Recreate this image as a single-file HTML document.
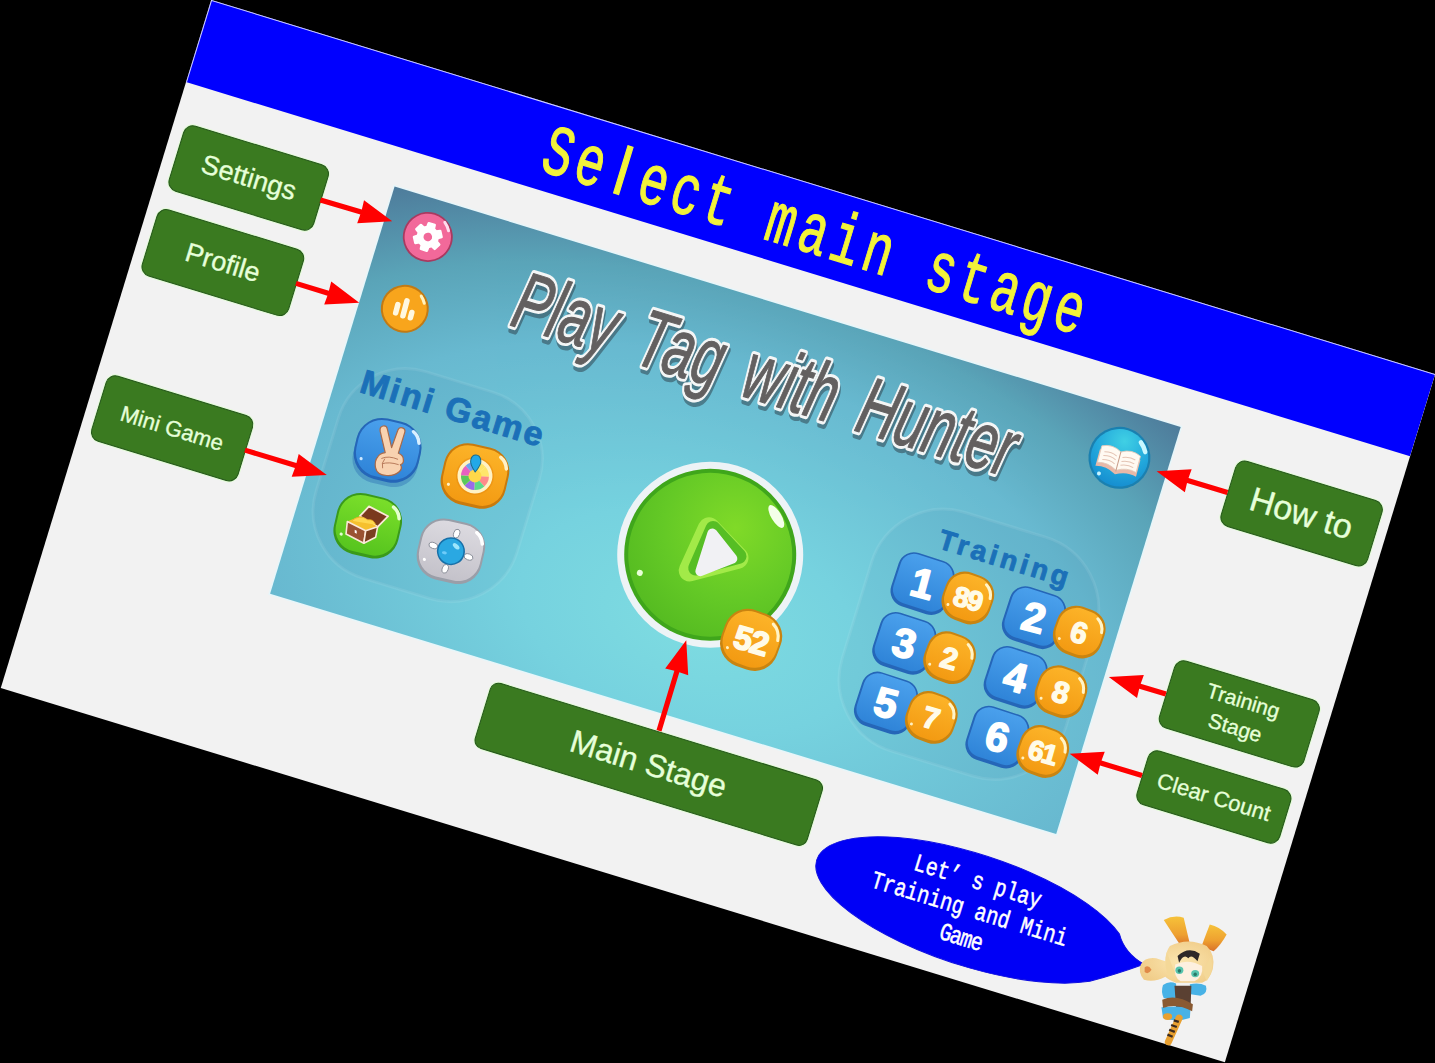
<!DOCTYPE html>
<html><head><meta charset="utf-8">
<style>
html,body{margin:0;padding:0;background:#000;}
body{width:1435px;height:1063px;overflow:hidden;position:relative;font-family:"Liberation Sans",sans-serif;}
#slide{position:absolute;left:78.2px;top:171.2px;width:1280px;height:720px;background:#f2f2f2;transform:rotate(17deg) scale(1,0.9993);overflow:hidden;}
.abs{position:absolute;}
#band{left:0;top:0;width:1280px;height:85.5px;background:#0000ff;border-top:1.6px solid #d8d8ff;border-left:1.6px solid #d8d8ff;box-sizing:border-box;}
#title{left:4px;top:3px;width:1280px;text-align:center;font-family:"Liberation Mono",monospace;font-size:72px;line-height:80px;color:#f2f23a;-webkit-text-stroke:1.2px #f2f23a;transform:scaleX(0.8);white-space:pre;}
.tc{display:inline-block;width:41.75px;text-align:center;transform:scaleX(0.84);}
.tl{font-family:"Liberation Sans",sans-serif;font-size:68px;transform:scaleX(1.1);}
.lbl{position:absolute;background:#3a7a20;border:1.2px solid #24561a;box-shadow:0 0 0 1px #e2fbd6;border-radius:10px;color:#e6ffd9;-webkit-text-stroke:0.35px #e6ffd9;display:flex;align-items:center;justify-content:center;text-align:center;box-sizing:border-box;}
#game{left:229.5px;top:124.5px;width:822px;height:426px;overflow:hidden;
 background:radial-gradient(ellipse 700px 420px at 410px 330px,#7edce1 0%,#76d2df 25%,#68b9d0 62%,#5aa4b8 80%,#4f809e 96%,#4c7898 100%);
 box-shadow:0 0 0 1.5px #e6f6fa;}
</style></head>
<body>
<div id="slide">
  <div id="band" class="abs"></div>
  <div id="title" class="abs"><span class="tc">S</span><span class="tc">e</span><span class="tc tl">l</span><span class="tc">e</span><span class="tc">c</span><span class="tc">t</span><span class="tc">&nbsp;</span><span class="tc">m</span><span class="tc">a</span><span class="tc">i</span><span class="tc">n</span><span class="tc">&nbsp;</span><span class="tc">s</span><span class="tc">t</span><span class="tc">a</span><span class="tc">g</span><span class="tc">e</span></div>
  <div id="game" class="abs"><svg class="abs" style="left:0;top:0" width="822" height="426" viewBox="0 0 822 426">
  <defs>
    <radialGradient id="gPlay" cx="0.6" cy="0.3" r="0.8">
      <stop offset="0" stop-color="#80da28"/><stop offset="0.55" stop-color="#64c926"/><stop offset="1" stop-color="#52b820"/>
    </radialGradient>
    <radialGradient id="gBook" cx="0.5" cy="0.2" r="0.8">
      <stop offset="0" stop-color="#40d0e4"/><stop offset="0.6" stop-color="#22a8dc"/><stop offset="1" stop-color="#168ed0"/>
    </radialGradient>
  </defs>
  <!-- panels -->
  <rect x="14" y="168" width="210" height="216" rx="70" fill="#1e5a80" fill-opacity="0.06" stroke="#ffffff" stroke-opacity="0.08" stroke-width="3"/>
  <rect x="566" y="145" width="234" height="250" rx="75" fill="#1e5a80" fill-opacity="0.06" stroke="#ffffff" stroke-opacity="0.08" stroke-width="3"/>

  
  <!-- title -->
  <g font-family="Liberation Sans" font-style="italic" font-size="82" word-spacing="14">
    <g transform="translate(410,99) scale(0.655,1)">
    <text x="3" y="4" text-anchor="middle" fill="#2a3a44" opacity="0.5" stroke="#2a3a44" stroke-width="7" stroke-linejoin="round">Play Tag with Hunter</text>
    <text x="0" y="0" text-anchor="middle" fill="#6b6b6b" stroke="#f4f6f6" stroke-width="7" stroke-linejoin="round">Play Tag with Hunter</text>
    <text x="0" y="0" text-anchor="middle" fill="#636060" stroke="#636060" stroke-width="1" stroke-linejoin="round">Play Tag with Hunter</text>
    </g>
  </g>
  <!-- mini game label -->
  <text x="121" y="207" text-anchor="middle" font-family="Liberation Sans" font-weight="bold" font-size="34" letter-spacing="2.2" fill="#1b70b8" stroke="#1b70b8" stroke-width="0.9" stroke-linejoin="round">Mini Game</text>
  <!-- training label -->
  <text x="693" y="187" text-anchor="middle" font-family="Liberation Sans" font-weight="bold" font-size="28" letter-spacing="3.6" fill="#1b70b8" stroke="#1b70b8" stroke-width="0.9" stroke-linejoin="round">Training</text>

  
  <defs>
    <linearGradient id="gBlueBtn" x1="0" y1="0" x2="0" y2="1"><stop offset="0" stop-color="#4aa0ec"/><stop offset="1" stop-color="#2f84d8"/></linearGradient>
    <linearGradient id="gOrange" x1="0" y1="0" x2="0" y2="1"><stop offset="0" stop-color="#fcb328"/><stop offset="1" stop-color="#f39a12"/></linearGradient>
    <linearGradient id="gGreenBtn" x1="0" y1="0" x2="0" y2="1"><stop offset="0" stop-color="#7ade2a"/><stop offset="1" stop-color="#56c41e"/></linearGradient>
    <linearGradient id="gGrayBtn" x1="0" y1="0" x2="0" y2="1"><stop offset="0" stop-color="#dcdae0"/><stop offset="1" stop-color="#c4c2ca"/></linearGradient>
  </defs>
  <!-- mini game icons -->
  <g transform="translate(70.5,254.5) rotate(-4)">
    <rect x="-33" y="-30" width="66" height="62" rx="24" fill="#1f5fae" opacity="0.35" transform="translate(0,3)"/>
    <rect x="-33" y="-31" width="66" height="62" rx="26" fill="#2566b8"/>
    <rect x="-31" y="-29" width="62" height="57" rx="24" fill="url(#gBlueBtn)"/>
    <path d="M21,-24 q6,3 8,10" stroke="#d8f0ff" stroke-width="3.5" fill="none" stroke-linecap="round"/>
    <circle cx="-24" cy="14" r="1.6" fill="#cde8ff"/>
    <!-- peace hand -->
    <g transform="translate(3,0) scale(0.88) rotate(-10)">
      <path d="M-6,2 L-13,-22 Q-14,-27 -10,-28 Q-6,-29 -5,-25 L1,-4 L7,-24 Q8,-28 12,-27 Q16,-26 15,-22 L9,2 Q15,4 15,9 Q16,13 12,15 Q15,19 11,23 Q6,28 -3,28 Q-14,28 -16,20 Q-18,12 -14,7 Q-12,3 -6,2 Z" fill="#f8d2b0" stroke="#a86a4a" stroke-width="1.4" stroke-linejoin="round"/>
      <path d="M-10,9 Q-2,5 9,9 M-9,15 Q-1,12 10,15 M-6,9 Q-10,14 -8,20" stroke="#b87a5a" stroke-width="1.1" fill="none"/>
    </g>
  </g>
  <g transform="translate(161.5,253.5) rotate(-4)">
    <rect x="-33" y="-31" width="66" height="62" rx="24" fill="#c97a0c"/>
    <rect x="-31" y="-29" width="62" height="57" rx="22" fill="url(#gOrange)"/>
    <path d="M21,-24 q6,3 8,10" stroke="#fff2c8" stroke-width="3.5" fill="none" stroke-linecap="round"/>
    <circle cx="-24" cy="14" r="1.6" fill="#fff2c8"/>
    <!-- roulette -->
    <g transform="rotate(-10)">
    <circle r="19" fill="#e88a10" opacity="0.5"/>
    <circle r="17.5" fill="#fff2c4"/>
    <path d="M0,0 L0,-14 A14,14 0 0 1 9.9,-9.9 z" fill="#ffe66a"/>
    <path d="M0,0 L9.9,-9.9 A14,14 0 0 1 14,0 z" fill="#ffe66a"/>
    <path d="M0,0 L14,0 A14,14 0 0 1 9.9,9.9 z" fill="#ff8a8a"/>
    <path d="M0,0 L9.9,9.9 A14,14 0 0 1 0,14 z" fill="#5ed88a"/>
    <path d="M0,0 L0,14 A14,14 0 0 1 -9.9,9.9 z" fill="#9a6ae8"/>
    <path d="M0,0 L-9.9,9.9 A14,14 0 0 1 -14,0 z" fill="#5ac85a"/>
    <path d="M0,0 L-14,0 A14,14 0 0 1 -9.9,-9.9 z" fill="#e860c0"/>
    <path d="M0,0 L-9.9,-9.9 A14,14 0 0 1 0,-14 z" fill="#6aa0f0"/>
    <circle r="6.5" fill="#ffd84a"/>
    <path d="M0,-4 Q-6,-12 -5,-16 Q-4,-21 0,-21 Q4,-21 5,-16 Q6,-12 0,-4 Z" fill="#22a8e8" stroke="#1a6a8a" stroke-width="1"/>
    </g>
  </g>
  <g transform="translate(73.5,332.5) rotate(-4)">
    <rect x="-33" y="-31" width="66" height="62" rx="24" fill="#3a9a1a"/>
    <rect x="-31" y="-29" width="62" height="57" rx="22" fill="url(#gGreenBtn)"/>
    <path d="M21,-24 q6,3 8,10" stroke="#e4ffd0" stroke-width="3.5" fill="none" stroke-linecap="round"/>
    <circle cx="-24" cy="14" r="1.6" fill="#e4ffd0"/>
    <!-- chest -->
    <g transform="rotate(-13) translate(2,-1)">
      <path d="M-9.9,-8.6 L-0.7,-18.4 L18.4,-8.6 L7.9,2 Z" fill="#7a3a1e" stroke="#fbe8d8" stroke-width="1.8" stroke-linejoin="round"/>
      <path d="M-22.4,-3.3 L-9.9,-8.6 L7.9,2 L-4,5.9 Z" fill="#f6c02e"/>
      <path d="M-18,-4 Q-10,-11 -2,-5 Q4,-6 6,0" fill="#ffd850" stroke="#e8a820" stroke-width="0.8"/>
      <path d="M-22.4,-3.3 L-4,5.9 L-5.9,18.4 L-23.7,9.2 Z" fill="#9a5232" stroke="#fbe8d8" stroke-width="1.6" stroke-linejoin="round"/>
      <path d="M-4,5.9 L7.9,2 L5.9,12.5 L-5.9,18.4 Z" fill="#7a3e20" stroke="#fbe8d8" stroke-width="1.6" stroke-linejoin="round"/>
      <path d="M-15,5 l2,1 v3 l-2,-1 z" fill="#ffffff"/>
    </g>
  </g>
  <g transform="translate(160.5,332.5) rotate(-4)">
    <rect x="-33" y="-31" width="66" height="62" rx="24" fill="#9a9ea8"/>
    <rect x="-31" y="-29" width="62" height="57" rx="22" fill="url(#gGrayBtn)"/>
    <path d="M21,-24 q6,3 8,10" stroke="#ffffff" stroke-width="3.5" fill="none" stroke-linecap="round"/>
    <circle cx="-24" cy="14" r="1.6" fill="#fff"/>
    <g transform="rotate(5)" fill="#ffffff" stroke="#8a8e98" stroke-width="0.9">
      <ellipse cx="18.5" cy="0" rx="4.5" ry="3"/><ellipse cx="-18.5" cy="0" rx="4.5" ry="3"/><ellipse cx="0" cy="18.5" rx="3" ry="4.5"/><ellipse cx="0" cy="-18.5" rx="3" ry="4.5"/>
    </g>
    <circle r="14" fill="#1870a8"/>
    <circle r="12.5" fill="#2aa8e2"/>
    <ellipse cx="4" cy="-6" rx="4" ry="2.2" transform="rotate(30 4 -6)" fill="#a8ecff" opacity="0.9"/>
    <ellipse cx="-6" cy="3" rx="2.5" ry="1.5" fill="#7fd4ff" opacity="0.8"/>
  </g>

  
  <!-- play button -->
  <g transform="translate(409.5,260)">
    <circle r="93" fill="#edf3f6"/>
    <circle r="86" fill="#3fa61b"/>
    <circle r="82" fill="url(#gPlay)"/>
        <ellipse cx="52" cy="-56" rx="5" ry="13" transform="rotate(-48 52 -56)" fill="#f4ffe8"/>
    <circle cx="-62" cy="38" r="3" fill="#e8ffd8"/>
    <!-- triangle -->
    <path d="M-9,-25 L27,-5 L-15,21 Z" fill="#a2ea48" stroke="#a2ea48" stroke-width="22" stroke-linejoin="round"/>
    <path d="M-5,-26 L28,-7 L-10,17 Z" fill="#56be24" stroke="#56be24" stroke-width="15" stroke-linejoin="round"/>
    <path d="M-4.2,-21 L22.3,-2.7 L-4.6,18.6 Z" fill="#f1f1f4" stroke="#f1f1f4" stroke-width="10" stroke-linejoin="round"/>
  </g>
  <!-- 52 badge -->
<g transform="translate(473.5,329.5) rotate(3)">
    <rect x="-29.5" y="-29.5" width="59" height="59" rx="23.8" fill="#c98410"/>
    <rect x="-27.5" y="-27.5" width="55" height="54" rx="22.400000000000002" fill="url(#gOrange)"/>
    <path d="M15.400000000000002,-22.400000000000002 q8.4,4.2 9.799999999999999,14.0" stroke="#fff4c8" stroke-width="3" fill="none" stroke-linecap="round"/>
    <circle cx="-19.599999999999998" cy="15.400000000000002" r="1.5" fill="#fff0c0"/>
    <text x="0" y="12" text-anchor="middle" font-family="Liberation Sans" font-weight="bold" font-size="33" letter-spacing="-1.5" fill="#fffbe8" stroke="#fffbe8" stroke-width="1.6" stroke-linejoin="round" transform="rotate(-4)">52</text>
  </g>
<!-- training buttons -->
<g transform="translate(621.0,225.5) rotate(1)">
    <rect x="-29" y="-28" width="58" height="56" rx="16" fill="#2566b8"/>
    <rect x="-27" y="-26.5" width="54" height="51" rx="14" fill="url(#gBlueBtn)"/>
    <text x="0" y="14" text-anchor="middle" font-family="Liberation Sans" font-weight="bold" font-size="41" fill="#ffffff" stroke="#fff" stroke-width="1.8" stroke-linejoin="round" transform="rotate(-3)">1</text>
  </g>
<g transform="translate(668.5,226.0) rotate(3)">
    <rect x="-25.0" y="-25.0" width="50" height="50" rx="19.974999999999998" fill="#c98410"/>
    <rect x="-23.0" y="-23.0" width="46" height="45" rx="18.8" fill="url(#gOrange)"/>
    <path d="M12.925,-18.8 q7.05,3.525 8.225,11.75" stroke="#fff4c8" stroke-width="3" fill="none" stroke-linecap="round"/>
    <circle cx="-16.45" cy="12.925" r="1.5" fill="#fff0c0"/>
    <text x="0" y="10.5" text-anchor="middle" font-family="Liberation Sans" font-weight="bold" font-size="28" letter-spacing="-1.5" fill="#fffbe8" stroke="#fffbe8" stroke-width="1.4" stroke-linejoin="round" transform="rotate(-4)">89</text>
  </g>
<g transform="translate(737.5,225.5) rotate(1)">
    <rect x="-29" y="-28" width="58" height="56" rx="16" fill="#2566b8"/>
    <rect x="-27" y="-26.5" width="54" height="51" rx="14" fill="url(#gBlueBtn)"/>
    <text x="0" y="14" text-anchor="middle" font-family="Liberation Sans" font-weight="bold" font-size="41" fill="#ffffff" stroke="#fff" stroke-width="1.8" stroke-linejoin="round" transform="rotate(-3)">2</text>
  </g>
<g transform="translate(785.0,226.0) rotate(3)">
    <rect x="-25.0" y="-25.0" width="50" height="50" rx="19.974999999999998" fill="#c98410"/>
    <rect x="-23.0" y="-23.0" width="46" height="45" rx="18.8" fill="url(#gOrange)"/>
    <path d="M12.925,-18.8 q7.05,3.525 8.225,11.75" stroke="#fff4c8" stroke-width="3" fill="none" stroke-linecap="round"/>
    <circle cx="-16.45" cy="12.925" r="1.5" fill="#fff0c0"/>
    <text x="0" y="11" text-anchor="middle" font-family="Liberation Sans" font-weight="bold" font-size="30" letter-spacing="0" fill="#fffbe8" stroke="#fffbe8" stroke-width="1.4" stroke-linejoin="round" transform="rotate(-4)">6</text>
  </g>
<g transform="translate(621.0,288.0) rotate(1)">
    <rect x="-29" y="-28" width="58" height="56" rx="16" fill="#2566b8"/>
    <rect x="-27" y="-26.5" width="54" height="51" rx="14" fill="url(#gBlueBtn)"/>
    <text x="0" y="14" text-anchor="middle" font-family="Liberation Sans" font-weight="bold" font-size="41" fill="#ffffff" stroke="#fff" stroke-width="1.8" stroke-linejoin="round" transform="rotate(-3)">3</text>
  </g>
<g transform="translate(668.5,288.5) rotate(3)">
    <rect x="-25.0" y="-25.0" width="50" height="50" rx="19.974999999999998" fill="#c98410"/>
    <rect x="-23.0" y="-23.0" width="46" height="45" rx="18.8" fill="url(#gOrange)"/>
    <path d="M12.925,-18.8 q7.05,3.525 8.225,11.75" stroke="#fff4c8" stroke-width="3" fill="none" stroke-linecap="round"/>
    <circle cx="-16.45" cy="12.925" r="1.5" fill="#fff0c0"/>
    <text x="0" y="11" text-anchor="middle" font-family="Liberation Sans" font-weight="bold" font-size="30" letter-spacing="0" fill="#fffbe8" stroke="#fffbe8" stroke-width="1.4" stroke-linejoin="round" transform="rotate(-4)">2</text>
  </g>
<g transform="translate(737.5,288.0) rotate(1)">
    <rect x="-29" y="-28" width="58" height="56" rx="16" fill="#2566b8"/>
    <rect x="-27" y="-26.5" width="54" height="51" rx="14" fill="url(#gBlueBtn)"/>
    <text x="0" y="14" text-anchor="middle" font-family="Liberation Sans" font-weight="bold" font-size="41" fill="#ffffff" stroke="#fff" stroke-width="1.8" stroke-linejoin="round" transform="rotate(-3)">4</text>
  </g>
<g transform="translate(785.0,288.5) rotate(3)">
    <rect x="-25.0" y="-25.0" width="50" height="50" rx="19.974999999999998" fill="#c98410"/>
    <rect x="-23.0" y="-23.0" width="46" height="45" rx="18.8" fill="url(#gOrange)"/>
    <path d="M12.925,-18.8 q7.05,3.525 8.225,11.75" stroke="#fff4c8" stroke-width="3" fill="none" stroke-linecap="round"/>
    <circle cx="-16.45" cy="12.925" r="1.5" fill="#fff0c0"/>
    <text x="0" y="11" text-anchor="middle" font-family="Liberation Sans" font-weight="bold" font-size="30" letter-spacing="0" fill="#fffbe8" stroke="#fffbe8" stroke-width="1.4" stroke-linejoin="round" transform="rotate(-4)">8</text>
  </g>
<g transform="translate(621.0,350.5) rotate(1)">
    <rect x="-29" y="-28" width="58" height="56" rx="16" fill="#2566b8"/>
    <rect x="-27" y="-26.5" width="54" height="51" rx="14" fill="url(#gBlueBtn)"/>
    <text x="0" y="14" text-anchor="middle" font-family="Liberation Sans" font-weight="bold" font-size="41" fill="#ffffff" stroke="#fff" stroke-width="1.8" stroke-linejoin="round" transform="rotate(-3)">5</text>
  </g>
<g transform="translate(668.5,351.0) rotate(3)">
    <rect x="-25.0" y="-25.0" width="50" height="50" rx="19.974999999999998" fill="#c98410"/>
    <rect x="-23.0" y="-23.0" width="46" height="45" rx="18.8" fill="url(#gOrange)"/>
    <path d="M12.925,-18.8 q7.05,3.525 8.225,11.75" stroke="#fff4c8" stroke-width="3" fill="none" stroke-linecap="round"/>
    <circle cx="-16.45" cy="12.925" r="1.5" fill="#fff0c0"/>
    <text x="0" y="11" text-anchor="middle" font-family="Liberation Sans" font-weight="bold" font-size="30" letter-spacing="0" fill="#fffbe8" stroke="#fffbe8" stroke-width="1.4" stroke-linejoin="round" transform="rotate(-4)">7</text>
  </g>
<g transform="translate(737.5,350.5) rotate(1)">
    <rect x="-29" y="-28" width="58" height="56" rx="16" fill="#2566b8"/>
    <rect x="-27" y="-26.5" width="54" height="51" rx="14" fill="url(#gBlueBtn)"/>
    <text x="0" y="14" text-anchor="middle" font-family="Liberation Sans" font-weight="bold" font-size="41" fill="#ffffff" stroke="#fff" stroke-width="1.8" stroke-linejoin="round" transform="rotate(-3)">6</text>
  </g>
<g transform="translate(785.0,351.0) rotate(3)">
    <rect x="-25.0" y="-25.0" width="50" height="50" rx="19.974999999999998" fill="#c98410"/>
    <rect x="-23.0" y="-23.0" width="46" height="45" rx="18.8" fill="url(#gOrange)"/>
    <path d="M12.925,-18.8 q7.05,3.525 8.225,11.75" stroke="#fff4c8" stroke-width="3" fill="none" stroke-linecap="round"/>
    <circle cx="-16.45" cy="12.925" r="1.5" fill="#fff0c0"/>
    <text x="0" y="10.5" text-anchor="middle" font-family="Liberation Sans" font-weight="bold" font-size="28" letter-spacing="-1.5" fill="#fffbe8" stroke="#fffbe8" stroke-width="1.4" stroke-linejoin="round" transform="rotate(-4)">61</text>
  </g>

  <!-- settings icon -->
  <g transform="translate(46.5,38.5)">
    <circle r="25" fill="#a83a60"/>
    <circle r="23.2" fill="#f2699a"/>
    <path d="M6.43,-7.66 L10.09,-9.41 L13.20,-4.03 L9.85,-1.74 L9.85,1.74 L13.20,4.03 L10.09,9.41 L6.43,7.66 L3.42,9.40 L3.10,13.45 L-3.10,13.45 L-3.42,9.40 L-6.43,7.66 L-10.09,9.41 L-13.20,4.03 L-9.85,1.74 L-9.85,-1.74 L-13.20,-4.03 L-10.09,-9.41 L-6.43,-7.66 L-3.42,-9.40 L-3.10,-13.45 L3.10,-13.45 L3.42,-9.40 Z" fill="#fff" stroke="#fff" stroke-width="2.5" stroke-linejoin="round"/>
    <circle r="4.3" fill="#f2699a"/>
    <path d="M12,-19 a22,22 0 0 1 6,7" stroke="#fde" stroke-width="3" fill="none" stroke-linecap="round"/>
  </g>
  <!-- profile icon -->
  <g transform="translate(45.5,114)">
    <circle r="24" fill="#c27a14"/>
    <circle r="22" fill="#f8a51c"/>
    <g transform="rotate(-2)" fill="#fff8e0">
      <rect x="-10.5" y="-5" width="5.5" height="14" rx="2.7"/>
      <rect x="-2.7" y="-11" width="5.5" height="21" rx="2.7"/>
      <rect x="5" y="-1" width="5.5" height="11" rx="2.7"/>
    </g>
    <path d="M12,-17 a20,20 0 0 1 5,6" stroke="#fff3c0" stroke-width="3" fill="none" stroke-linecap="round"/>
  </g>
  <!-- book icon -->
  <g transform="translate(772.5,47.5)">
    <circle r="31" fill="#1a80b0"/>
    <circle r="28.8" fill="url(#gBook)"/>
    <g transform="translate(0,3) rotate(-2)">
      <path d="M-21,-6 q10,-5 21,1 q11,-6 21,-1 l0,17 q-10,-3 -21,3 q-11,-6 -21,-3 z" fill="#e8b8a8"/>
      <path d="M-20,-10 q10,-5 20,1 q10,-6 20,-1 l0,17 q-10,-3 -20,3 q-10,-6 -20,-3 z" fill="#fffaf2" stroke="#e0c8b8" stroke-width="0.8"/>
      <path d="M0,-9 v20" stroke="#c89c88" stroke-width="1"/>
      <path d="M-16,-5 q7,-2 13,1 M-16,-1 q7,-2 13,1 M-16,3 q7,-2 13,1 M3,-4 q7,-3 13,-1 M3,0 q7,-3 13,-1 M3,4 q7,-3 13,-1" stroke="#e4c4b4" stroke-width="1" fill="none"/>
    </g>
    <path d="M16,-21 a26,26 0 0 1 7,8" stroke="#c8f8ff" stroke-width="4.5" fill="none" stroke-linecap="round"/>
    <circle cx="-15" cy="21" r="2" fill="#c8f4ff"/>
  </g>
</svg></div>

  <div class="lbl" style="left:12px;top:125px;width:152px;height:69px;font-size:27px;">Settings</div>
  <div class="lbl" style="left:11px;top:213px;width:154px;height:70px;font-size:27px;">Profile</div>
  <div class="lbl" style="left:11px;top:387px;width:154px;height:69px;font-size:22px;">Mini Game</div>
  <div class="lbl" style="left:1116px;top:138px;width:153.5px;height:69px;font-size:34px;">How to</div>
  <div class="lbl" style="left:1116px;top:347px;width:152px;height:71px;font-size:21px;line-height:28px;">Training<br>Stage</div>
  <div class="lbl" style="left:1117px;top:441px;width:150px;height:57px;font-size:22px;">Clear Count</div>
  <div class="lbl" style="left:468px;top:568.5px;width:347.5px;height:69px;font-size:32px;border-radius:9px;">Main Stage</div>

  
  <!-- speech bubble -->
  <svg class="abs" style="left:0;top:0" width="1280" height="720">
    <path d="M1141.8,628.3 A162.5,56 1.0 1 0 1127.2,682.2 Q1150,668 1174,650 Q1152,645 1141.8,628.3 Z" fill="#0000f6" stroke="#1010e0" stroke-width="1"/>
    <g font-family="Liberation Mono" font-size="25" fill="#ffffff" stroke="#ffffff" stroke-width="0.5" text-anchor="middle">
      <g transform="translate(991,0) scale(0.8,1)">
        <text x="0" y="627">Let’  s play</text>
        <text x="0" y="656">Training and Mini</text>
        <text x="0" y="685.5" letter-spacing="-1.5">Game</text>
      </g>
    </g>
  </svg>
  <svg class="abs" style="left:0;top:0" width="1280" height="720">
    <g fill="#f00" stroke="none">
<path d="M163.0,162.1 L205.4,161.7 L205.0,171.1 L237.9,158.8 L204.8,147.1 L205.4,156.5 L163.0,156.9 Z"/>
<path d="M164.0,249.1 L197.7,249.1 L197.2,258.5 L230.2,246.5 L197.2,234.5 L197.7,243.9 L164.0,243.9 Z"/>
<path d="M164.0,423.6 L217.0,423.5 L216.5,432.9 L249.5,420.8 L216.5,408.9 L217.0,418.3 L164.0,418.4 Z"/>
<path d="M1116.0,171.4 L1074.5,171.7 L1074.9,162.3 L1042.0,174.6 L1075.1,186.3 L1074.5,176.9 L1116.0,176.6 Z"/>
<path d="M1116.0,382.4 L1088.9,382.5 L1089.3,373.1 L1056.4,385.3 L1089.5,397.1 L1088.9,387.7 L1116.0,387.6 Z"/>
<path d="M1117.0,467.4 L1073.9,467.5 L1074.4,458.1 L1041.4,470.2 L1074.4,482.1 L1073.9,472.7 L1117.0,472.6 Z"/>
<path d="M644.6,568.5 L644.3,506.4 L653.7,506.8 L641.6,473.9 L629.7,507.0 L639.1,506.4 L639.4,568.5 Z"/>
    </g>
  </svg>
</div>

<!-- character (image coords) -->
<svg style="position:absolute;left:1130px;top:900px" width="110" height="163" viewBox="0 0 717 1063">
  <defs>
    <linearGradient id="gEar" x1="0" y1="0" x2="0" y2="1"><stop offset="0" stop-color="#f6c23a"/><stop offset="0.6" stop-color="#eea030"/><stop offset="1" stop-color="#d8702a"/></linearGradient>
    <radialGradient id="gHair" cx="0.55" cy="0.5" r="0.6"><stop offset="0" stop-color="#fbe6b0"/><stop offset="1" stop-color="#f0cc88"/></radialGradient>
  </defs>
  <path d="M220,130 Q285,95 350,115 Q370,200 390,285 L335,305 Q275,215 220,130 Z" fill="url(#gEar)"/>
  <path d="M465,305 Q495,225 520,160 Q585,175 630,225 Q595,290 545,335 Z" fill="url(#gEar)"/>
  <path d="M260,300 Q380,240 500,300 Q560,360 540,450 Q520,520 470,540 L300,540 Q250,520 230,500 Q160,540 90,520 Q50,470 70,420 Q100,370 170,380 Q200,390 230,400 Q230,340 260,300 Z" fill="url(#gHair)"/>
  <path d="M95,440 Q120,420 140,455 Q120,490 95,470 Z" fill="#e08a48"/>
  <path d="M310,365 Q380,300 455,350 L440,400 Q400,350 380,380 Q350,345 320,410 Z" fill="#2e2828"/>
  <path d="M295,420 Q380,380 470,430 Q480,500 420,530 L330,530 Q280,500 295,420 Z" fill="#fdf0e0"/>
  <ellipse cx="322" cy="458" rx="26" ry="24" fill="#58c4ae"/>
  <ellipse cx="425" cy="480" rx="26" ry="24" fill="#58c4ae"/>
  <ellipse cx="322" cy="462" rx="11" ry="12" fill="#2a7868"/>
  <ellipse cx="425" cy="484" rx="11" ry="12" fill="#2a7868"/>
  <path d="M240,340 Q215,420 255,510 L290,470 Z M525,370 Q555,450 500,530 L475,470 Z" fill="#f4d898"/>
  <path d="M215,555 Q255,525 300,545 L305,640 L220,640 Q200,600 215,555 Z" fill="#48b2e6"/>
  <path d="M390,550 Q450,535 495,560 Q510,610 460,625 L395,615 Z" fill="#48b2e6"/>
  <path d="M290,560 L400,560 L395,700 L300,700 Z" fill="#5a4032"/>
  <path d="M205,700 Q300,690 395,700 L390,770 Q300,800 215,770 Z" fill="#48b2e6"/>
  <path d="M210,650 Q300,610 410,680 L405,725 Q300,670 215,705 Z" fill="#8a5a32"/>
  <path d="M320,770 L250,925" stroke="#e8a030" stroke-width="46" stroke-linecap="round"/>
  <path d="M318,795 L285,785 M305,828 L268,815 M292,860 L255,846 M278,892 L244,878" stroke="#3a2a20" stroke-width="15"/>
  <ellipse cx="245" cy="760" rx="30" ry="22" fill="#e8a030"/>
</svg>
</body></html>
